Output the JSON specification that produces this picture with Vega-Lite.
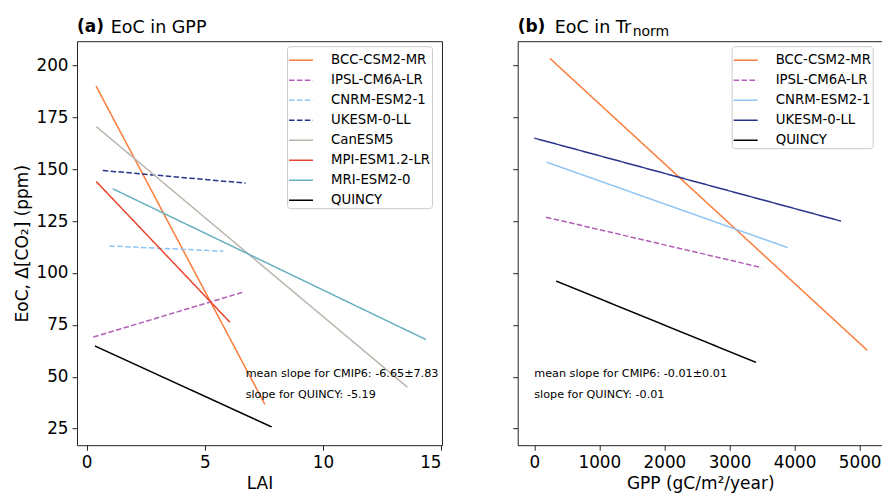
{
  "$schema": "https://vega.github.io/schema/vega-lite/v6.json",
  "padding": {"left": 13, "top": 17.2, "right": 0, "bottom": 0},
  "config": {
    "font": "DejaVu Sans",
    "view": {"stroke": "#222222", "strokeWidth": 1},
    "axis": {"grid": false, "domain": false, "tickColor": "#222222", "tickSize": 5, "labelFontSize": 16.8, "titleFontSize": 17, "labelColor": "black", "titleColor": "black", "titleFontWeight": "normal", "labelPadding": 4, "labelFont": "DejaVu Sans", "titleFont": "DejaVu Sans"},
    "legend": {"title": null, "orient": "none", "legendY": 5, "padding": 1, "symbolType": "stroke", "symbolSize": 576, "symbolStrokeWidth": 1.5, "labelFontSize": 13.3, "labelOffset": 17, "rowPadding": 0, "strokeColor": "#cccccc", "fillColor": "white", "cornerRadius": 3, "labelColor": "black", "labelLimit": 300, "labelFont": "DejaVu Sans"},
    "title": {"fontSize": 17, "fontWeight": "bold", "anchor": "start", "font": "DejaVu Sans", "frame": "group", "baseline": "alphabetic", "offset": -17, "color": "black"},
    "concat": {"spacing": 68.7}
  },
  "datasets": {
    "linesA": [
      {"model": "BCC-CSM2-MR", "x": 0.40, "y": 190.0}, {"model": "BCC-CSM2-MR", "x": 7.54, "y": 36.7},
      {"model": "IPSL-CM6A-LR", "x": 0.28, "y": 69.1}, {"model": "IPSL-CM6A-LR", "x": 6.63, "y": 90.8},
      {"model": "CNRM-ESM2-1", "x": 0.96, "y": 113.0}, {"model": "CNRM-ESM2-1", "x": 5.79, "y": 110.5},
      {"model": "UKESM-0-LL", "x": 0.68, "y": 149.4}, {"model": "UKESM-0-LL", "x": 6.73, "y": 143.3},
      {"model": "CanESM5", "x": 0.40, "y": 170.6}, {"model": "CanESM5", "x": 13.58, "y": 44.9},
      {"model": "MPI-ESM1.2-LR", "x": 0.40, "y": 144.1}, {"model": "MPI-ESM1.2-LR", "x": 6.06, "y": 76.3},
      {"model": "MRI-ESM2-0", "x": 1.10, "y": 140.6}, {"model": "MRI-ESM2-0", "x": 14.36, "y": 67.9},
      {"model": "QUINCY", "x": 0.35, "y": 64.8}, {"model": "QUINCY", "x": 7.83, "y": 25.8}
    ],
    "linesB": [
      {"model": "BCC-CSM2-MR", "x": 241, "y": 203.4}, {"model": "BCC-CSM2-MR", "x": 5118, "y": 62.7},
      {"model": "IPSL-CM6A-LR", "x": 180, "y": 126.9}, {"model": "IPSL-CM6A-LR", "x": 3494, "y": 102.6},
      {"model": "CNRM-ESM2-1", "x": 190, "y": 153.4}, {"model": "CNRM-ESM2-1", "x": 3894, "y": 112.2},
      {"model": "UKESM-0-LL", "x": 0, "y": 165.0}, {"model": "UKESM-0-LL", "x": 4713, "y": 125.0},
      {"model": "QUINCY", "x": 338, "y": 96.1}, {"model": "QUINCY", "x": 3407, "y": 56.9}
    ],
    "annA": [
      {"x": 6.73, "y": 51.3, "label": "mean slope for CMIP6: -6.65±7.83"},
      {"x": 6.73, "y": 41.4, "label": "slope for QUINCY: -5.19"}
    ],
    "annB1": [
      {"x": 0, "y": 51.3, "label": "mean slope for CMIP6: -0.01±0.01"}
    ],
    "annB2": [
      {"x": 0, "y": 41.4, "label": "slope for QUINCY: -0.01"}
    ]
  },
  "resolve": {"scale": {"color": "independent", "strokeDash": "independent", "x": "independent", "y": "independent"}, "legend": {"color": "independent", "strokeDash": "independent"}},
  "hconcat": [
    {
      "width": 365,
      "height": 404,
      "title": {"text": "(a)"},
      "resolve": {"axis": {"x": "independent", "y": "shared"}},
      "layer": [
        {
          "data": {"name": "linesA"},
          "mark": {"type": "line", "strokeWidth": 1.5},
          "encoding": {
            "x": {"field": "x", "type": "quantitative", "scale": {"domain": [-0.41, 15.04], "nice": false, "zero": false}, "axis": {"orient": "bottom", "title": "LAI", "values": [0, 5, 10, 15], "titlePadding": 5}},
            "y": {"field": "y", "type": "quantitative", "scale": {"domain": [17, 211.7], "nice": false, "zero": false}, "axis": {"values": [25, 50, 75, 100, 125, 150, 175, 200], "title": "EoC, Δ[CO₂] (ppm)", "titlePadding": 4}},
            "color": {"field": "model", "type": "nominal",
              "scale": {"domain": ["BCC-CSM2-MR", "IPSL-CM6A-LR", "CNRM-ESM2-1", "UKESM-0-LL", "CanESM5", "MPI-ESM1.2-LR", "MRI-ESM2-0", "QUINCY"],
                        "range": ["#fb7d3b", "#b35fb3", "#8ec5f6", "#27348b", "#bbb6ad", "#e9452f", "#68b0c0", "#000000"]},
              "legend": {"title": null, "legendX": 210}},
            "strokeDash": {"field": "model", "type": "nominal",
              "scale": {"domain": ["BCC-CSM2-MR", "IPSL-CM6A-LR", "CNRM-ESM2-1", "UKESM-0-LL", "CanESM5", "MPI-ESM1.2-LR", "MRI-ESM2-0", "QUINCY"],
                        "range": [[1, 0], [5.5, 2.4], [5.5, 2.4], [5.5, 2.4], [1, 0], [1, 0], [1, 0], [1, 0]]},
              "legend": {"title": null, "legendX": 210}}
          }
        },
        {
          "data": {"name": "annA"},
          "mark": {"type": "text", "align": "left", "baseline": "middle", "fontSize": 11.2, "color": "black"},
          "encoding": {
            "x": {"field": "x", "type": "quantitative", "scale": {"domain": [-0.41, 15.04], "nice": false, "zero": false},
                  "axis": {"orient": "top", "title": "EoC in GPP", "labels": false, "ticks": false, "domain": false, "titleX": 33.3, "titleY": -8.4, "titleAlign": "left", "titleBaseline": "alphabetic", "titleFontWeight": "normal", "titleFontSize": 17.5, "titleAngle": 0}},
            "y": {"field": "y", "type": "quantitative", "scale": {"domain": [17, 211.7], "nice": false, "zero": false}, "axis": {"values": [25, 50, 75, 100, 125, 150, 175, 200], "title": "EoC, Δ[CO₂] (ppm)", "titlePadding": 4}},
            "text": {"field": "label"}
          }
        }
      ]
    },
    {
      "width": 365,
      "height": 404,
      "title": {"text": "(b)"},
      "resolve": {"axis": {"x": "independent", "y": "shared"}},
      "layer": [
        {
          "data": {"name": "linesB"},
          "mark": {"type": "line", "strokeWidth": 1.5},
          "encoding": {
            "x": {"field": "x", "type": "quantitative", "scale": {"domain": [-255, 5354], "nice": false, "zero": false}, "axis": {"orient": "bottom", "title": "GPP (gC/m²/year)", "values": [0, 1000, 2000, 3000, 4000, 5000], "format": "d", "titlePadding": 5}},
            "y": {"field": "y", "type": "quantitative", "scale": {"domain": [17, 211.7], "nice": false, "zero": false}, "axis": {"values": [25, 50, 75, 100, 125, 150, 175, 200], "labels": false, "title": null}},
            "color": {"field": "model", "type": "nominal",
              "scale": {"domain": ["BCC-CSM2-MR", "IPSL-CM6A-LR", "CNRM-ESM2-1", "UKESM-0-LL", "QUINCY"],
                        "range": ["#fb7d3b", "#b35fb3", "#8ec5f6", "#27348b", "#000000"]},
              "legend": {"title": null, "legendX": 214}},
            "strokeDash": {"field": "model", "type": "nominal",
              "scale": {"domain": ["BCC-CSM2-MR", "IPSL-CM6A-LR", "CNRM-ESM2-1", "UKESM-0-LL", "QUINCY"],
                        "range": [[1, 0], [5.5, 2.4], [1, 0], [1, 0], [1, 0]]},
              "legend": {"title": null, "legendX": 214}}
          }
        },
        {
          "data": {"name": "annB1"},
          "mark": {"type": "text", "align": "left", "baseline": "middle", "fontSize": 11.2, "color": "black"},
          "encoding": {
            "x": {"field": "x", "type": "quantitative", "scale": {"domain": [-255, 5354], "nice": false, "zero": false},
                  "axis": {"orient": "top", "title": "EoC in Tr", "labels": false, "ticks": false, "domain": false, "titleX": 36.6, "titleY": -8.4, "titleAlign": "left", "titleBaseline": "alphabetic", "titleFontWeight": "normal", "titleFontSize": 17.5, "titleAngle": 0}},
            "y": {"field": "y", "type": "quantitative", "scale": {"domain": [17, 211.7], "nice": false, "zero": false}, "axis": {"values": [25, 50, 75, 100, 125, 150, 175, 200], "labels": false, "title": null}},
            "text": {"field": "label"}
          }
        },
        {
          "data": {"name": "annB2"},
          "mark": {"type": "text", "align": "left", "baseline": "middle", "fontSize": 11.2, "color": "black"},
          "encoding": {
            "x": {"field": "x", "type": "quantitative", "scale": {"domain": [-255, 5354], "nice": false, "zero": false},
                  "axis": {"orient": "top", "title": "norm", "labels": false, "ticks": false, "domain": false, "titleX": 114.5, "titleY": -6.0, "titleAlign": "left", "titleBaseline": "alphabetic", "titleFontWeight": "normal", "titleFontSize": 14, "titleAngle": 0}},
            "y": {"field": "y", "type": "quantitative", "scale": {"domain": [17, 211.7], "nice": false, "zero": false}, "axis": {"values": [25, 50, 75, 100, 125, 150, 175, 200], "labels": false, "title": null}},
            "text": {"field": "label"}
          }
        }
      ]
    }
  ]
}
